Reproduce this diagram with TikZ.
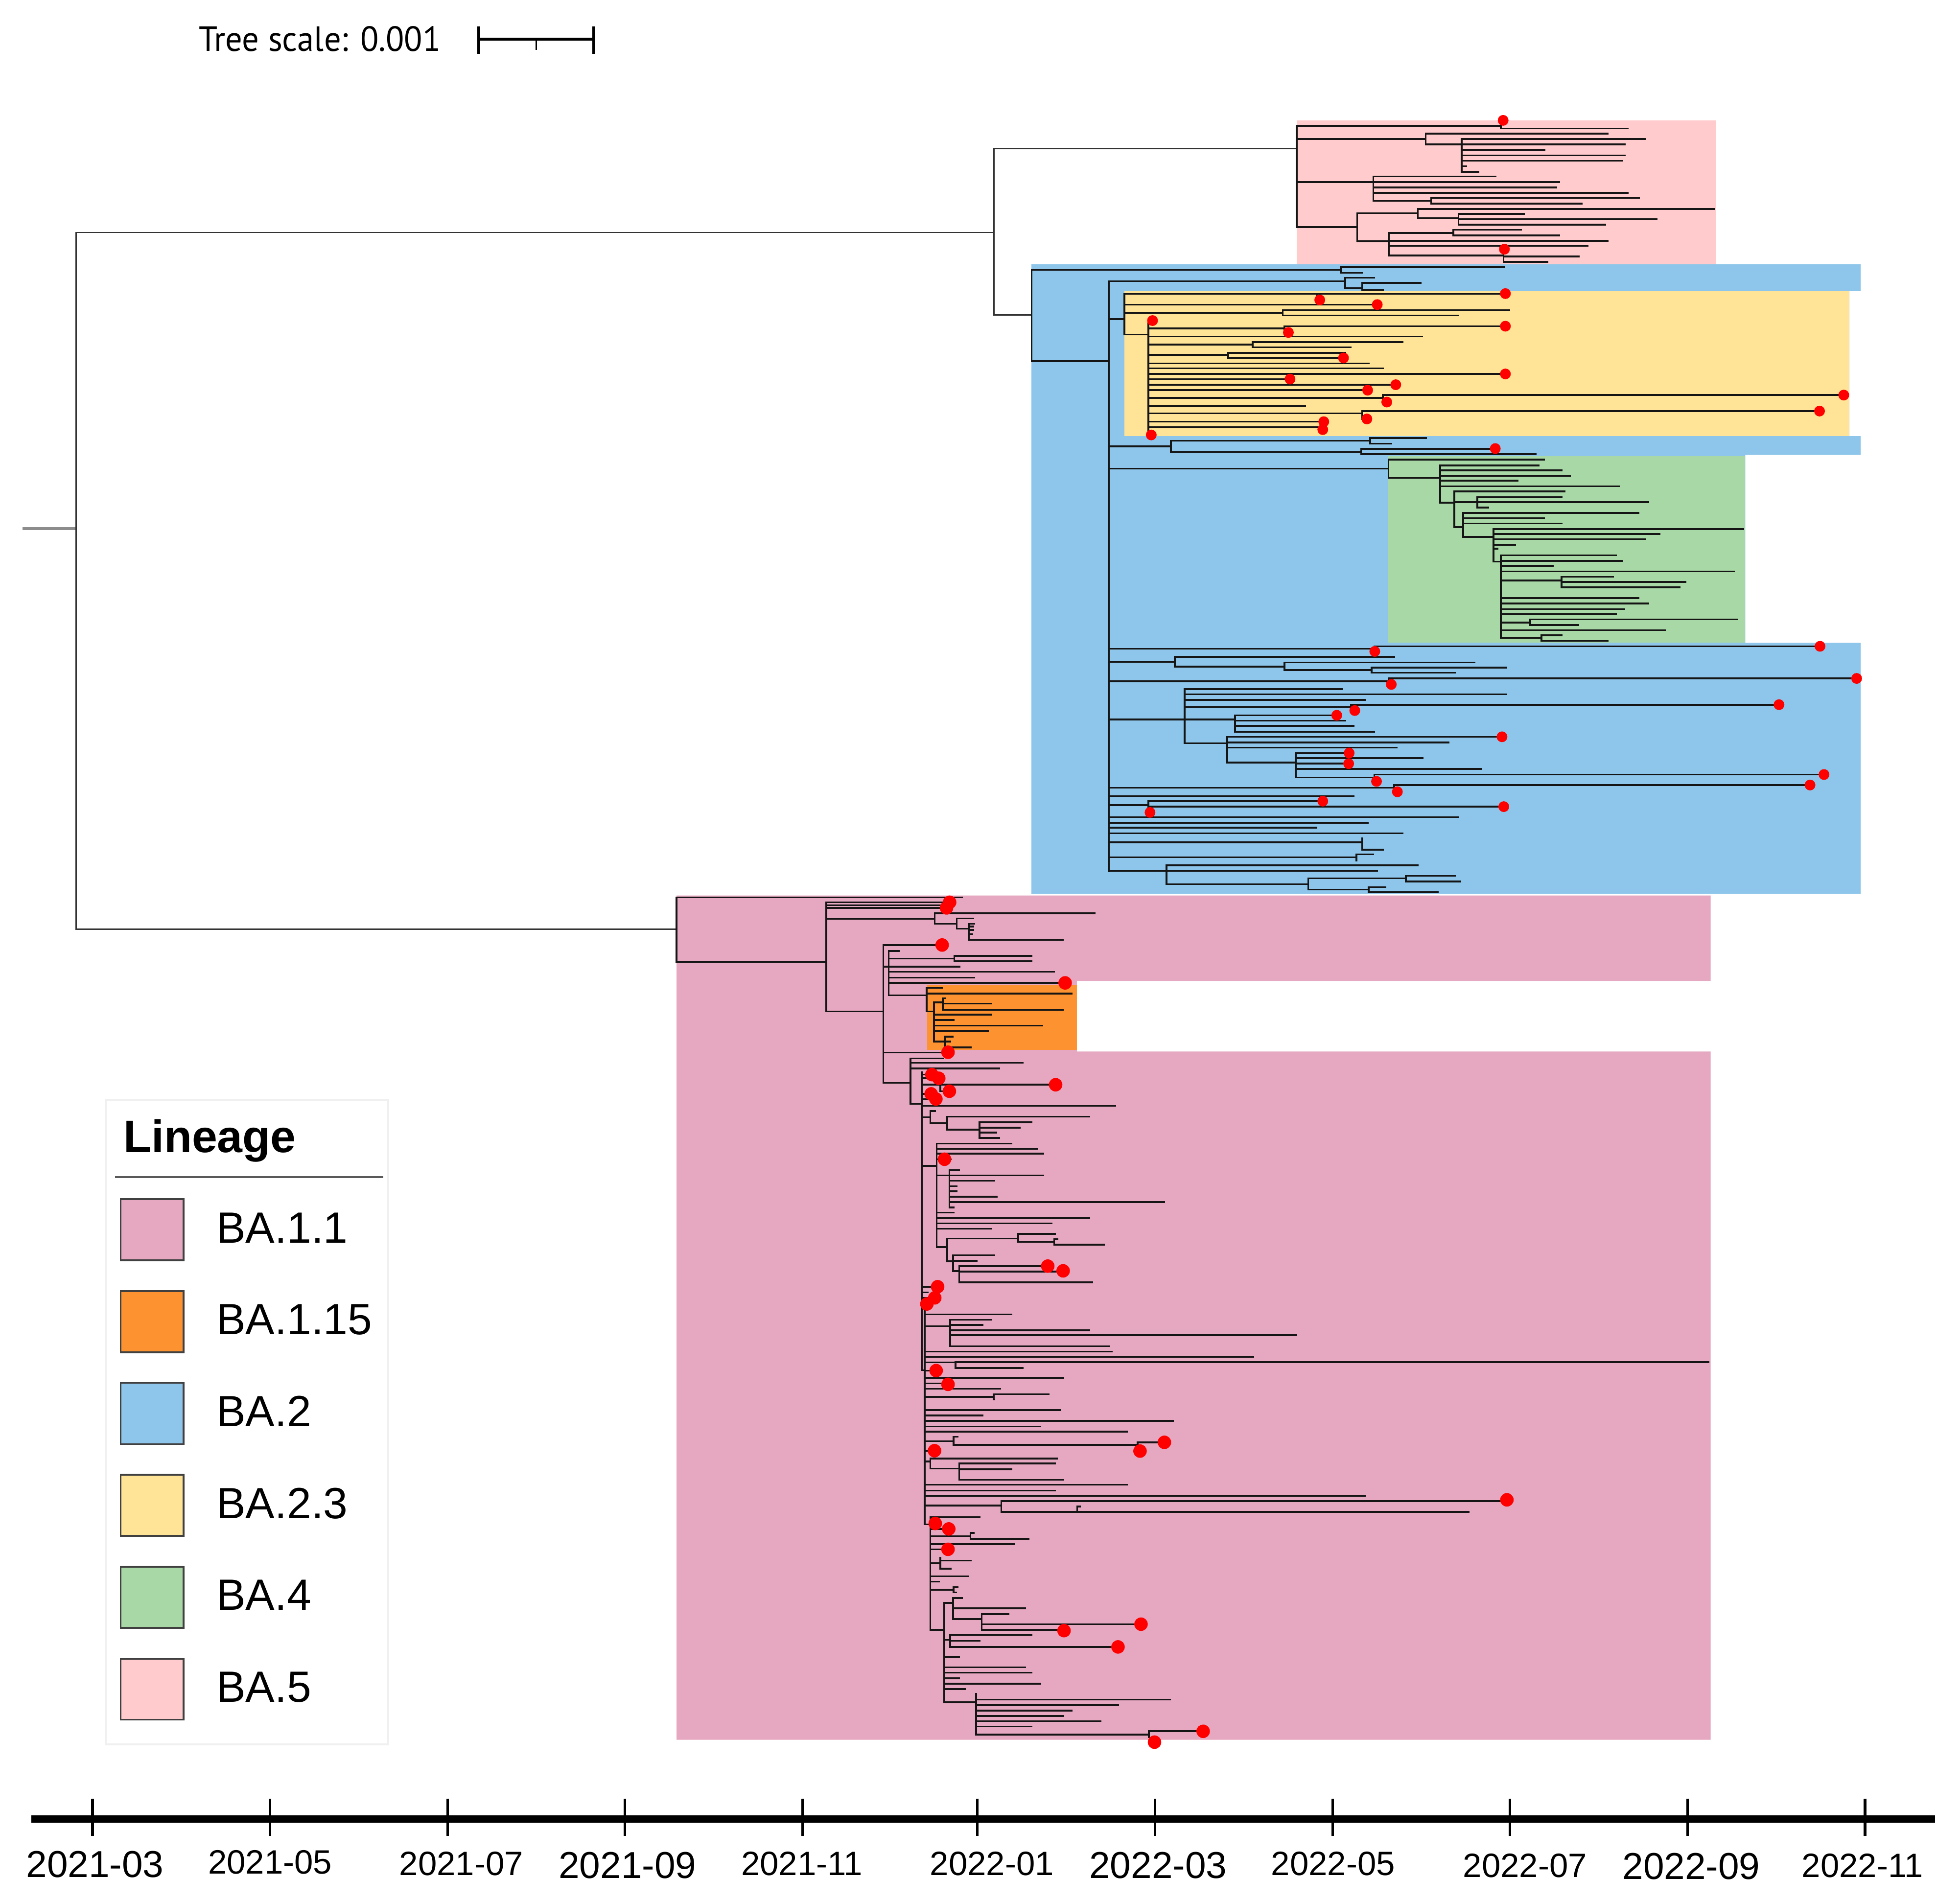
\documentclass[tikz,border=0pt]{standalone}
\usepackage{fontspec}
\setmainfont{Liberation Sans}
\newfontfamily\treescalefont{PT Sans}
\definecolor{cBAa}{HTML}{E6A7C0}
\definecolor{cBAb}{HTML}{FD9231}
\definecolor{cBAc}{HTML}{8DC6EA}
\definecolor{cBAd}{HTML}{FFE396}
\definecolor{cBAe}{HTML}{A8D8A6}
\definecolor{cBAf}{HTML}{FFCBCC}
\definecolor{treeink}{HTML}{151515}
\definecolor{dotred}{HTML}{FF0000}
\tikzset{
  br/.style={line width=1.4pt, draw=treeink, line cap=rect},
  rootbr/.style={line width=1.1pt, draw=black!80, line cap=rect},
  legbox/.style={draw=black!75, line width=1.5pt},
  legtxt/.style={anchor=base west, font=\fontsize{35}{40}\selectfont},
  biglab/.style={anchor=base, font=\fontsize{30}{34}\selectfont},
  smalllab/.style={anchor=base, font=\fontsize{27}{31}\selectfont},
}
% clade: x, ytop, ybottom, list of y/xend
\newcommand\tclade[4]{\draw[br] (#1,#2) -- (#1,#3); \foreach \yy/\xx in {#4}{\draw[br] (#1,\yy) -- (\xx,\yy);}}
\newcommand\tdot[2]{\fill[dotred] (#1,#2) circle (4.3);}
\newcommand\bdot[2]{\fill[dotred] (#1,#2) circle (5.4);}
\begin{document}
\begin{tikzpicture}[x=1pt,y=-1pt]
\useasboundingbox (0,0) rectangle (1568,1521);
\fill[white] (0,0) rectangle (1568,1521);

% ---------- clade highlights ----------
\fill[cBAc] (825.2,211.5) -- (1488.5,211.5) -- (1488.5,233) -- (1479.5,233) -- (1479.5,349) -- (1488.5,349) -- (1488.5,363.9) -- (1396.2,363.9) -- (1396.2,514.3) -- (1488.5,514.3) -- (1488.5,715) -- (825.2,715) -- cycle;
\fill[cBAd] (899.5,233) rectangle (1479.5,349);
\fill[cBAe] (1110.6,364.8) rectangle (1396.2,514.3);
\fill[cBAf] (1037.4,96.3) rectangle (1373,211.5);
\fill[cBAa] (541.2,716.5) -- (1368.5,716.5) -- (1368.5,784.8) -- (861.5,784.8) -- (861.5,841.3) -- (1368.5,841.3) -- (1368.5,1392) -- (541.2,1392) -- cycle;
\fill[cBAb] (741.5,788.4) rectangle (861.5,840);

% ---------- tree scale ----------
\node[anchor=base west, font=\treescalefont\fontsize{28}{32}\selectfont, inner sep=0] (tscale) at (159,41) {\scalebox{0.96}[1]{Tree scale: 0.001}};
\draw[line width=2.5pt] (383,31.3) -- (475,31.3);
\draw[line width=2pt] (383,21) -- (383,43) (475,21) -- (475,43);
\draw[line width=1.2pt] (429,31.3) -- (429,40);

% ---------- root ----------
\draw[line width=2.5pt, draw=black!45] (18,423) -- (60.5,423);
\draw[rootbr] (60.8,186) -- (60.8,743.6);
\draw[rootbr] (60.8,186) -- (795,186);
\draw[rootbr] (60.8,743.6) -- (541.2,743.6);
\draw[rootbr] (795,118.7) -- (795,252);
\draw[rootbr] (795,118.7) -- (1037.4,118.7);
\draw[rootbr] (795,252) -- (825.3,252);

% ---------- BA.5 ----------
\tclade{1037.4}{100.7}{181.8}{100.7/1200.7, 111.2/1140.6, 145.6/1098.6, 181.8/1085.7}
\tclade{1200.7}{100.7}{102.8}{102.8/1302}
\tclade{1140.6}{106.8}{115.5}{106.8/1286.1, 115.5/1169.3}
\tclade{1169.3}{111.2}{137.4}{111.2/1316, 115.5/1300, 119.8/1235.7, 124.3/1300, 128.6/1298, 133/1172.8, 137.4/1182.6}
\tclade{1098.6}{141.2}{160.8}{141.2/1196.5, 145.6/1247.3, 150/1244.8, 154.2/1302.2, 160.8/1144.8}
\tclade{1144.8}{158.4}{162.9}{158.4/1311.3, 162.9/1265.4}
\tclade{1085.7}{170.6}{193.1}{170.6/1134.3, 193.1/1110.9}
\tclade{1134.3}{167.1}{174.4}{167.1/1371.4, 174.4/1166.8}
\tclade{1166.8}{171.1}{179.7}{171.1/1219.3, 175.3/1325.2, 179.7/1284}
\tclade{1110.9}{186.3}{204.5}{186.3/1162.6, 192.6/1286.1, 196.8/1270, 204.5/1202.8}
\tclade{1162.6}{183.9}{188.4}{183.9/1216.8, 188.4/1247.3}
\tclade{1202.8}{199.8}{209.4}{205.3/1263, 209.4/1237.8}

% ---------- BA.2 ----------
\tclade{825.3}{216}{289.1}{216/1072.6, 289.1/886.9}
\tclade{1072.6}{213.8}{218.3}{213.8/1203, 218.3/1089.6}
\tclade{886.9}{225}{697.3}{225/1076.2, 255.4/899.5, 357.2/936.8, 375/1110.8, 519.1/1099.5, 529.4/939.9, 545.1/1110.8, 575.7/947.6, 630.3/1115.3, 636.9/1082.9, 644.2/918.8, 653.8/1166.1, 658.2/1094.1, 662.3/1053.2, 666.7/1122, 674/1089.6, 685.9/1085.2, 696.9/933.2}
\tclade{1076.2}{222.3}{230.6}{222.3/1099.5, 230.6/1089.6}
\tclade{1089.6}{226.4}{232}{226.4/1136.4, 232/1106.3}
% BA.2.3
\tclade{899.5}{235.1}{267.7}{235.1/1053.7, 243.7/1101.8, 250.2/1026.2, 267.7/918.8}
\tclade{1053.7}{235.1}{240}{235.1/1204.3}
\tclade{1026.2}{248}{252.4}{248/1207.4, 252.4/1166.1}
\tclade{918.8}{256.5}{346}{262.8/1027.6, 269.3/1137.8, 275.6/1002, 283.9/982.6, 290.7/1095, 294.7/1106.3, 299.2/1204.3, 303.3/1032, 307.8/1116.2, 312.2/1094.1, 318.3/1106.3, 325.1/1044.2, 330.7/1089.6, 337.4/1059, 341.9/1058.2}
\tclade{1027.6}{261}{266}{261/1204.3}
\tclade{1002}{273.8}{277.9}{273.8/1122, 277.9/1080.6}
\tclade{982.6}{282.3}{286.2}{282.3/1076.2, 286.2/1074.8}
\tclade{1106.3}{316.1}{321.7}{316.1/1475}
\tclade{1089.6}{328.9}{335.2}{328.9/1455.6}
\tclade{936.8}{352.7}{361.7}{352.7/1096, 361.7/1088.8}
\tclade{1096}{350.5}{355}{350.5/1141, 355/1113}
\tclade{1088.8}{359.2}{363.3}{359.2/1196.2, 363.3/1228.6}
% BA.4
\tclade{1110.8}{367.8}{382.4}{367.8/1235.3, 382.4/1152.1}
\tclade{1152.1}{372.3}{402.2}{372.3/1230.8, 376.3/1249.3, 380.6/1256, 384.6/1214.2, 389.1/1295.1, 402.2/1163.4}
\tclade{1163.4}{393.2}{421.7}{393.2/1251.5, 401.7/1181.8, 421.7/1170.6}
\tclade{1181.8}{397.7}{406}{397.7/1249.3, 401.7/1318.5, 406/1190.4}
\tclade{1170.6}{410.5}{429.6}{410.5/1310.8, 414.5/1235.3, 418.8/1249.3, 429.6/1194.8}
\tclade{1194.8}{423.3}{449.4}{423.3/1394.5, 427.3/1327.5, 431.4/1316.2, 435.9/1211.9, 439/1198, 449.4/1200.7}
\tclade{1200.7}{444.2}{510.5}{444.2/1292.9, 448.7/1297.4, 452.7/1242.1, 457.2/1387.3, 464.4/1249.3, 478.6/1310.8, 482.8/1318.5, 487.4/1299.6, 491.4/1292.9, 498.2/1224.1, 504.2/1332, 510.5/1233.1}
\tclade{1249.3}{461.5}{470}{461.5/1290.6, 465.6/1348.2, 470/1343.7}
\tclade{1224.1}{495.5}{500}{495.5/1390, 500/1262.7}
\tclade{1233.1}{508.3}{512.8}{508.3/1249.3, 512.8/1286.1}
% lower BA.2
\tclade{1099.5}{517.1}{521.2}{517.1/1456}
\tclade{939.9}{525.6}{533.4}{525.6/1115.3, 533.4/1027.6}
\tclade{1027.6}{530}{536}{530/1179.6, 536/1097.3}
\tclade{1097.3}{534.1}{538.2}{534.1/1205.2, 538.2/1163.8}
\tclade{1110.8}{542.8}{547.6}{542.8/1485.3}
\tclade{947.6}{551.3}{594.6}{551.3/1073.5, 555.5/1205.2, 559.9/1091.9, 565.7/1080.6, 575.7/988, 594.6/981.7}
\tclade{1080.6}{563.8}{568.5}{563.8/1423.2}
\tclade{988}{572.3}{585.4}{572.3/1069, 576.7/1076.2, 580.8/1082.9, 585.4/1099.5}
\tclade{981.7}{589.5}{610.1}{589.5/1201.6, 594/1158.9, 598.1/1117.5, 610.1/1036.6}
\tclade{1036.6}{602.5}{622}{602.5/1079.3, 606.7/1138.2, 611/1078.9, 615.2/1185, 622/1099.5}
\tclade{1099.5}{619.7}{625.2}{619.7/1459.2}
\tclade{1115.3}{628.1}{633.5}{628.1/1448}
\tclade{918.8}{641}{650}{641/1058.2, 645.4/1203}
\tclade{1089.6}{670.6}{679.9}{679.9/1106.3}
\tclade{1085.2}{683.6}{688.5}{683.6/1098.6}
\tclade{933.2}{692.3}{707.4}{692.3/1134.2, 696.6/1101.8, 707.4/1046.5}
\tclade{1046.5}{702.8}{711.8}{702.8/1124.7, 711.8/1095}
\tclade{1124.7}{700.8}{705.2}{700.8/1163.8, 705.2/1168.3}
\tclade{1095}{709.7}{713.8}{709.7/1108.5, 713.8/1150.3}

% ---------- BA.1 ----------
\tclade{541.2}{718}{769.5}{718/769.7, 769.5/661}
\tclade{661}{721.9}{809.3}{721.9/757.2, 724.2/755, 726.4/755, 735.2/747.7, 809.3/706.7}
\tclade{747.7}{730.7}{739.1}{730.7/875.8, 739.1/765.4}
\tclade{765.4}{734.9}{743}{734.9/778.4, 743/775.1}
\tclade{775.1}{739.1}{751.9}{739.1/779.2, 741.4/778.4, 744/778.4, 747.3/777.9, 751.9/850.3}
\tclade{706.7}{756.1}{866.5}{756.1/753.4, 773.4/711, 842.2/753.4, 866.5/728.4}
\tclade{711}{760.8}{796.3}{760.8/719.2, 766.9/763.4, 773.4/767.7, 777.6/843.3, 782.2/779.2, 786.4/852.1, 796.3/741.4}
\tclade{763.4}{764.9}{769.1}{764.9/825.3, 769.1/825.3}
% BA.1.15
\tclade{741.4}{790.4}{809.3}{790.4/753.4, 795/857.3, 809.3/747.2}
\tclade{747.2}{802.1}{833.4}{802.1/754.2, 811.9/792.6, 816.2/763, 820.6/833.8, 824.7/790.4, 833.4/756}
\tclade{754.2}{798.6}{808}{798.6/756, 803/792.6, 808/850.3}
\tclade{756}{829.5}{838}{829.5/762.3, 833.4/760.3, 838/776.7}
% lower BA.1.1
\tclade{728.4}{846.8}{883.3}{846.8/754.5, 850.3/818, 854.9/799.5, 883.3/737.5}
\tclade{737.5}{858.1}{1096.3}{859.8/745.5, 862.7/751, 867.9/752.3, 875.2/744.9, 879.3/748.7, 884.9/892.1, 893.9/744.2, 932.8/749.4, 1029.5/750.1, 1034/742, 1038.4/747.8, 1043.3/741.5, 1096.3/739.7}
\tclade{752.3}{867.9}{873.1}{867.9/844.5, 873.1/759.5}
\tclade{744.2}{889}{898.7}{889/748, 898.7/757.7}
\tclade{757.7}{893.5}{903.9}{893.5/871.4, 903.9/783.5}
\tclade{783.5}{898}{910.4}{898/825.1, 902.2/815.7, 906.1/797, 910.4/799.5}
\tclade{749.4}{915}{997.8}{915/809, 919/829.9, 923.1/834.4, 927.5/760.6, 940.5/759.5, 970.2/762.9, 974.7/871.4, 978.8/841.1, 983.2/792.8, 997.8/757.7}
\tclade{759.5}{936.1}{966.1}{936.1/767.3, 940.5/834.4, 944.7/795.5, 949.1/765.1, 953.1/765.1, 957.5/797.3, 961.7/931.5, 966.1/762.9}
\tclade{757.7}{991}{1009.2}{991/814.6, 1009.2/762.4}
\tclade{814.6}{987.2}{993.7}{987.2/843.8, 993.7/843.3}
\tclade{843.3}{991.3}{995.9}{991.3/846, 995.9/883.1}
\tclade{762.4}{1004.3}{1017}{1004.3/795.5, 1008.7/781.5, 1017/767.4}
\tclade{767.4}{1013}{1025.9}{1013/838.2, 1017.4/850.5, 1025.9/873.7}
% spine B
\tclade{739.7}{1045}{1219.7}{1051.7/809, 1061.1/760, 1081.4/889.4, 1085.8/1002.7, 1090.1/764.4, 1096.6/748.9, 1102.4/850.5, 1106.8/758.4, 1111.2/800, 1117.7/795, 1128.3/848.3, 1132.5/786, 1136.9/938.2, 1141.3/832.1, 1145.5/901.6, 1153.1/762.9, 1160.7/747.6, 1169.4/744.2, 1188/901.6, 1192.6/843.8, 1197/1092, 1204.6/801, 1219.7/744.2}
\tclade{760}{1056}{1077.1}{1056/792.8, 1060/786, 1064.3/871.4, 1068.4/1037.1, 1077.1/887.6}
\tclade{764.4}{1089.8}{1094.5}{1089.8/1366.7, 1094.5/818}
\tclade{795}{1115.4}{1119.8}{1115.4/838.8, 1119.8/795.5}
\tclade{762.9}{1149.5}{1156}{1149.5/766, 1156/910.1}
\tclade{910.1}{1154}{1161}{1154/931.5}
\tclade{744.2}{1167}{1175}{1167/845.6, 1175/767.4}
\tclade{767.4}{1171}{1184}{1171/843.8, 1175.5/809, 1184/850.5}
\tclade{801}{1201}{1209.6}{1201/1205, 1209.6/861.8}
\tclade{861.8}{1205.4}{1209.6}{1205.4/864, 1209.6/1175}
% spine C
\tclade{744.2}{1214}{1304.1}{1214/783.5, 1218.9/748.2, 1223.3/759, 1229.1/776.3, 1235.6/811.2, 1239.6/758.4, 1250.5/752.3, 1261.1/774.5, 1265.4/751.2, 1272/762.9, 1304.1/755.4}
\tclade{776.3}{1226.6}{1231.1}{1226.6/779, 1231.1/822.9}
\tclade{752.3}{1246.5}{1255}{1248.6/776.8, 1255/760.6}
\tclade{762.9}{1270}{1274}{1270/766, 1274/765}
% spine D
\tclade{755.4}{1282.5}{1362.1}{1282.5/762.4, 1312.1/760, 1325.6/767.4, 1334/820.2, 1338.3/825.1, 1342.8/767.4, 1347.1/832.1, 1351.4/771.8, 1362.1/780.8}
\tclade{762.4}{1278.6}{1295.5}{1278.6/769.6, 1286.8/820.2, 1295.5/785.3}
\tclade{785.3}{1291.4}{1304}{1291.4/806.7, 1299.5/912.8, 1304/851.2}
\tclade{760}{1308.2}{1317.7}{1308.2/825.1, 1312.9/783.5, 1317.7/894.4}
\tclade{780.8}{1355.2}{1387.8}{1359.9/936, 1364.3/894.4, 1368.6/857.3, 1372.9/850.5, 1377.1/880.4, 1381.4/825.1, 1387.8/919.1}
\tclade{919.1}{1385.2}{1390}{1385.2/962.5}

% ---------- tip markers ----------
\foreach \px/\py in {1202.5/96.3, 1203.5/199.4, 1204.3/234.9, 1055.8/240, 1101.8/243.7, 922/256.5, 921/348, 1204.3/261, 1030.7/266, 1074.8/286.4, 1204.3/299.2, 1032/303.3, 1116.6/307.8, 1094.1/312.2, 1475/316.1, 1109.4/321.7, 1455.6/328.9, 1093.5/335.2, 1059/337.4, 1058.2/343.7, 1196.2/358.9, 1456/517.1, 1099.8/521.2, 1485.3/542.8, 1113/547.6, 1423.2/563.8, 1083.8/568.5, 1069.4/572.3, 1201.6/589.5, 1079.3/602.5, 1078.9/611, 1459.2/619.7, 1101.2/625.2, 1448/628.1, 1117.9/633.5, 1058.2/641, 1203/645.4, 920/650}{\tdot{\px}{\py}}
\foreach \px/\py in {759.7/721.9, 757.2/726.4, 753.7/756.1, 852.1/786.4, 758.4/841.9, 745.5/859.8, 751/862.7, 844.5/867.9, 759.5/873.1, 744.9/875.2, 748.7/879.3, 755.6/927.5, 838.2/1013, 850.5/1016.8, 750.1/1029.5, 747.8/1038.4, 741.5/1043.3, 748.9/1096.6, 758.4/1107.6, 931.5/1154, 912/1161, 747.6/1160.7, 1205.5/1200, 748.2/1218.9, 759/1223.3, 758.4/1239.6, 912.8/1299.5, 851.2/1304.7, 894.4/1317.7, 962.5/1385.2, 923.6/1393.9}{\bdot{\px}{\py}}

% ---------- legend ----------
\draw[draw=black!6, line width=1.5pt] (84.8,880) rectangle (310.5,1395.6);
\node[anchor=base west, font=\bfseries\fontsize{36.5}{42}\selectfont, inner sep=0] (legtitle) at (98.6,922) {Lineage};
\draw[draw=black!65, line width=1.5pt] (92,941.8) -- (306.6,941.8);
\foreach \i/\c/\t in {0/cBAa/BA.1.1, 1/cBAb/BA.1.15, 2/cBAc/BA.2, 3/cBAd/BA.2.3, 4/cBAe/BA.4, 5/cBAf/BA.5}{
  \draw[legbox, fill=\c] (96.5,959.5+73.5*\i) rectangle (146.9,1008.4+73.5*\i);
  \node[legtxt, inner sep=0] (leg\i) at (173,994.3+73.5*\i) {\t};
}

% ---------- time axis ----------
\draw[line width=6pt] (25,1455.5) -- (1548,1455.5);
\foreach \tx in {74,216,358,500,642,782,924,1066,1208,1350,1492}{\draw[line width=2pt] (\tx,1439) -- (\tx,1469);}
\node[biglab] (d1) at (76,1501.8) {2021-03};
\node[smalllab] (d2) at (216,1499.2) {2021-05};
\node[smalllab] (d3) at (369,1500.5) {2021-07};
\node[biglab] (d4) at (502,1502.7) {2021-09};
\node[smalllab] (d5) at (641.5,1500.5) {2021-11};
\node[smalllab] (d6) at (793.5,1500.5) {2022-01};
\node[biglab] (d7) at (926.5,1502.7) {2022-03};
\node[smalllab] (d8) at (1066.5,1500.5) {2022-05};
\node[smalllab] (d9) at (1220,1501.8) {2022-07};
\node[biglab] (d10) at (1353,1503.7) {2022-09};
\node[smalllab] (d11) at (1490,1501.8) {2022-11};
\end{tikzpicture}
\end{document}
